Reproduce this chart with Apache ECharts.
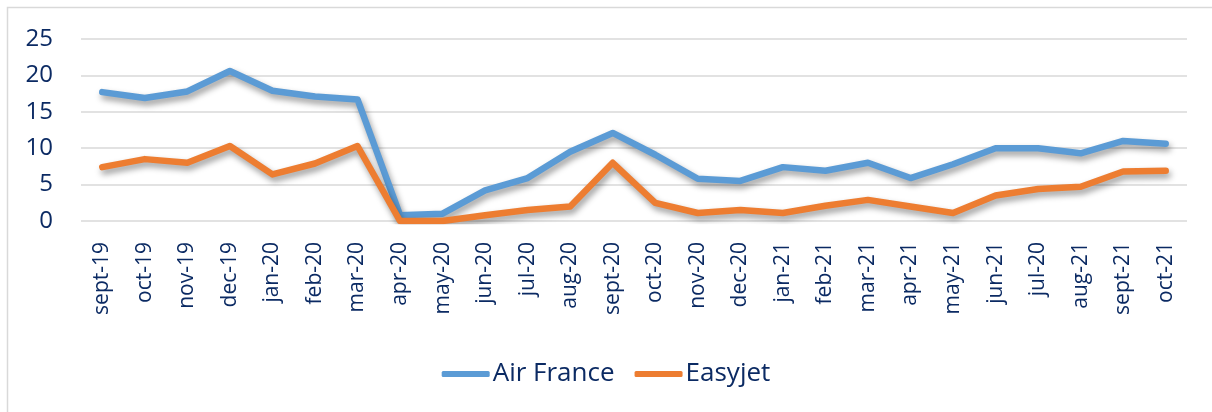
<!DOCTYPE html>
<html>
<head>
<meta charset="utf-8">
<script src="https://cdn.jsdelivr.net/npm/echarts@6/dist/echarts.min.js"></script>
<style>
  html, body { margin: 0; padding: 0; background: #fff; }
  #chart { width: 1212px; height: 412px; }
</style>
</head>
<body>
<div id="chart"></div>
<script>
var months = ['sept-19', 'oct-19', 'nov-19', 'dec-19', 'jan-20', 'feb-20', 'mar-20', 'apr-20',
	'may-20', 'jun-20', 'jul-20', 'aug-20', 'sept-20', 'oct-20', 'nov-20', 'dec-20', 'jan-21',
	'feb-21', 'mar-21', 'apr-21', 'may-21', 'jun-21', 'jul-20', 'aug-21', 'sept-21', 'oct-21'];
var airFrance = [17.7, 16.9, 17.8, 20.6, 17.9, 17.1, 16.7, 0.8, 1.0, 4.2, 5.9, 9.5, 12.1,
	9.1, 5.8, 5.5, 7.4, 6.9, 8.0, 5.9, 7.8, 10.0, 10.0, 9.3, 11.0, 10.6];
var easyjet = [7.4, 8.5, 8.0, 10.3, 6.4, 7.9, 10.3, 0.0, 0.0, 0.8, 1.5, 2.0, 8.0,
	2.5, 1.1, 1.5, 1.1, 2.1, 2.9, 2.0, 1.1, 3.5, 4.4, 4.7, 6.8, 6.9];
var yTicks = [0, 5, 10, 15, 20, 25];

var textColor = '#0b2a63';
var fontName = '"Open Sans", "Noto Sans", sans-serif';

var myChart = echarts.init(document.getElementById('chart'));

function lineSeries(name, data, color) {
	return {
		name: name,
		type: 'line',
		data: data,
		showSymbol: false,
		symbol: 'none',
		animation: false,
		lineStyle: {
			color: color,
			width: 6.5,
			cap: 'round',
			join: 'round',
			shadowColor: 'rgba(0, 0, 0, 0.4)',
			shadowBlur: 6,
			shadowOffsetX: 2,
			shadowOffsetY: 4
		},
		itemStyle: { color: color }
	};
}

var option = {
	backgroundColor: '#fff',
	animation: false,
	graphic: [{
		type: 'rect',
		shape: { x: 7.5, y: 7.5, width: 1230, height: 420 },
		style: { fill: 'none', stroke: '#d9d9d9', lineWidth: 1.5 },
		silent: true
	}],
	grid: {
		left: 81,
		right: 25,
		top: 39,
		bottom: 191
	},
	legend: {
		top: 356,
		left: 'center',
		itemWidth: 48,
		itemHeight: 6,
		itemGap: 20,
		icon: 'roundRect',
		textStyle: { color: textColor, fontSize: 26, fontFamily: fontName, padding: [0, 0, 0, -2] },
		data: ['Air France', 'Easyjet']
	},
	xAxis: {
		type: 'category',
		data: months,
		boundaryGap: true,
		axisLine: { show: false },
		axisTick: { show: false },
		axisLabel: {
			rotate: 90,
			interval: 0,
			margin: 21,
			color: textColor,
			fontSize: 21,
			fontFamily: fontName
		}
	},
	yAxis: {
		type: 'value',
		min: yTicks[0],
		max: yTicks[yTicks.length - 1],
		interval: 5,
		axisLine: { show: false },
		axisTick: { show: false },
		axisLabel: {
			margin: 28,
			color: textColor,
			fontSize: 24,
			fontFamily: fontName
		},
		splitLine: { lineStyle: { color: '#d9d9d9', width: 1.5 } }
	},
	series: [
		lineSeries('Air France', airFrance, '#5b9bd5'),
		lineSeries('Easyjet', easyjet, '#ed7d31')
	]
};
myChart.setOption(option);
</script>
</body>
</html>
